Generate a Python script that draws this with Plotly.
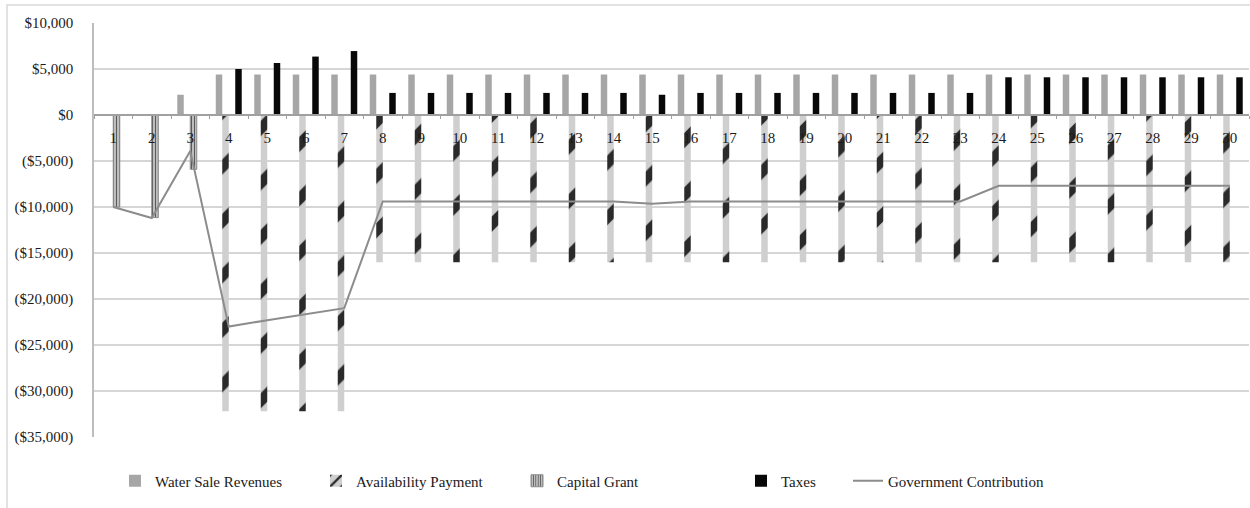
import plotly.graph_objects as go

# Project years
years = [str(i) for i in range(1, 31)]

# Annual cash flows (USD)
water_sale_revenues = [0, 50, 2200] + [4400] * 27
availability_payment = [0, 0, 0] + [-32200] * 4 + [-16000] * 23
capital_grant = [-10000, -11150, -5900] + [0] * 27
taxes = ([0, 0, 0, 5000, 5650, 6350, 6950]
         + [2400] * 7 + [2200] + [2400] * 8 + [4100] * 7)
government_contribution = ([-10000, -11200, -3900, -23000, -22300, -21650, -21000]
                           + [-9400] * 7 + [-9650] + [-9400] * 8 + [-7700] * 7)

# Value axis ticks
y_tick_values = [10000, 5000, 0, -5000, -10000, -15000, -20000, -25000, -30000, -35000]
y_tick_labels = ["$10,000", "$5,000", "$0", "($5,000)", "($10,000)", "($15,000)",
                 "($20,000)", "($25,000)", "($30,000)", "($35,000)"]

FONT = "Liberation Serif, Times New Roman, serif"

plot_left, plot_width, plot_height = 94, 1155, 414
category_px = plot_width / len(years)

fig = go.Figure()

fig.add_trace(go.Bar(
    x=years, y=water_sale_revenues, name="Water Sale Revenues",
    marker=dict(color="#a6a6a6", line=dict(width=0)),
    legend="legend",
))
fig.add_trace(go.Bar(
    x=years, y=availability_payment, name="Availability Payment",
    marker=dict(
        color="#cfcfcf",
        line=dict(width=0),
        pattern=dict(shape="/", fgcolor="#2a2a2a", bgcolor="#cfcfcf",
                     size=category_px, solidity=0.28, fillmode="replace"),
    ),
    legend="legend2",
))
fig.add_trace(go.Bar(
    x=years, y=capital_grant, name="Capital Grant",
    marker=dict(
        color="#bdbdbd",
        line=dict(width=1, color="#8a8a8a"),
        pattern=dict(shape="|", fgcolor="#5a5a5a", bgcolor="#c8c8c8",
                     size=3, solidity=0.4, fillmode="replace"),
    ),
    legend="legend3",
))
fig.add_trace(go.Bar(
    x=years, y=taxes, name="Taxes",
    marker=dict(color="#080808", line=dict(width=0)),
    legend="legend4",
))
fig.add_trace(go.Scatter(
    x=years, y=government_contribution, name="Government Contribution",
    mode="lines", line=dict(color="#8c8c8c", width=2),
    legend="legend5",
))

# One legend box per entry so the entries sit at fixed positions along the bottom
legend_text_x = [155, 356, 557, 781, 888]
legend_names = ["legend", "legend2", "legend3", "legend4", "legend5"]
legend_layout = {}
for name, tx in zip(legend_names, legend_text_x):
    legend_layout[name] = dict(
        x=(tx - 40 - plot_left) / plot_width,
        xanchor="left",
        y=-44 / plot_height,
        yanchor="middle",
        orientation="h",
        font=dict(family=FONT, size=15, color="#1a1a1a"),
        bgcolor="rgba(0,0,0,0)",
        itemwidth=30,
    )

fig.update_layout(
    width=1250, height=508,
    margin=dict(l=plot_left, r=1, t=23, b=71),
    paper_bgcolor="white",
    plot_bgcolor="white",
    barmode="group",
    bargap=0.325,
    bargroupgap=0,
    showlegend=True,
    font=dict(family=FONT, size=15, color="#1a1a1a"),
    xaxis=dict(
        type="category",
        anchor="free",
        position=35000 / 45000,
        showline=True, linecolor="#a0a0a0", linewidth=1.5,
        ticks="outside", tickson="boundaries", ticklen=3,
        tickcolor="#a0a0a0", tickwidth=1,
        showgrid=False,
        ticklabelstandoff=9,
        tickfont=dict(family=FONT, size=15, color="#1a1a1a"),
        range=[-0.5, 29.5],
    ),
    yaxis=dict(
        range=[-35000, 10000],
        tickvals=y_tick_values,
        ticktext=y_tick_labels,
        showgrid=True, gridcolor="#d6d6d6", gridwidth=1.5,
        zeroline=False,
        showline=True, linecolor="#bdbdbd", linewidth=1.5,
        ticks="",
        ticklabelstandoff=16,
        tickfont=dict(family=FONT, size=15, color="#1a1a1a"),
    ),
    shapes=[dict(
        type="rect", xref="paper", yref="paper",
        x0=(7 - plot_left) / plot_width, x1=1.02,
        y0=-0.25, y1=1 + 18 / plot_height,
        line=dict(color="#d9d9d9", width=1.5),
        fillcolor="rgba(0,0,0,0)", layer="below",
    )],
    **legend_layout,
)

fig.write_html("out.html")
